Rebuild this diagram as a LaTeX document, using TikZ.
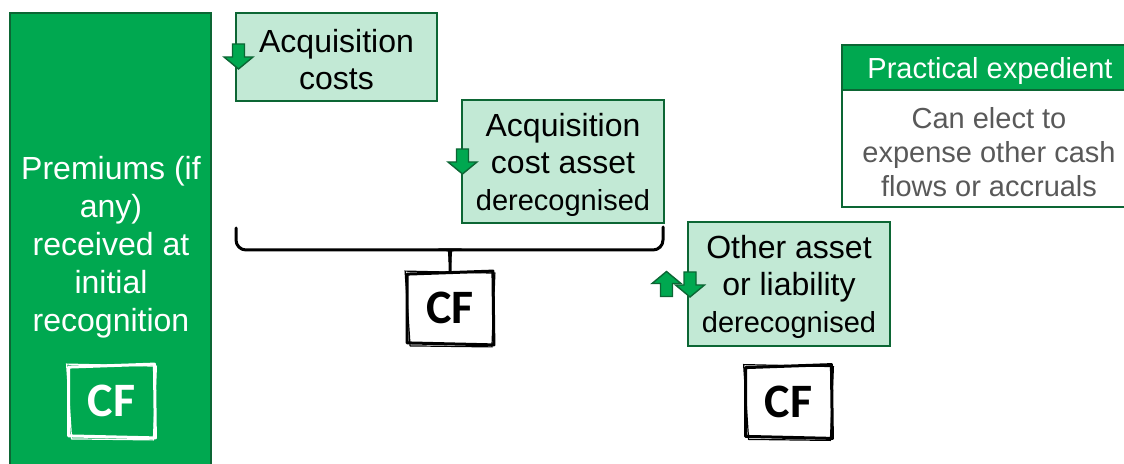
\documentclass[tikz,border=0pt]{standalone}
\usepackage{fontspec}
\setmainfont{Liberation Sans}
\newfontfamily\cffont{Carlito}

\definecolor{ifrsgreen}{RGB}{0,168,80}
\definecolor{ifrsdark}{RGB}{12,102,52}
\definecolor{ifrslight}{RGB}{194,233,213}
\definecolor{notegray}{RGB}{89,89,89}

% rough hand-drawn outline round a CF node
\newcommand\roughframe[2]{%
  \draw[#2,line width=1.5pt,line join=round]
    ([shift={(-1,2)}]#1.north west) -- ([shift={(1,-1)}]#1.north east)
    -- ([shift={(2,1)}]#1.south east) -- ([shift={(-1,-1)}]#1.south west) -- cycle;
  \draw[#2,line width=0.6pt]
    ([shift={(-3,-1)}]#1.north west) -- ([shift={(3,1)}]#1.north east)
    -- ([shift={(0,3)}]#1.south east) -- ([shift={(2,2)}]#1.south west) -- cycle;
}
% smaller last line in the boxes
\newcommand\smallline[1]{{\fontsize{14.5}{17}\selectfont #1}}

\begin{document}
\begin{tikzpicture}[x=0.5pt,y=-0.5pt,
  stepbox/.style={draw=ifrsdark,fill=ifrslight,line width=1.3pt,align=center,
    inner sep=0pt,font=\fontsize{16}{18.6}\selectfont},
  cf/.style={inner sep=0pt,minimum width=41.5pt,minimum height=35.5pt,
    font=\cffont\bfseries\fontsize{24}{24}\selectfont},
  brace line/.style={line width=1.5pt,line cap=round},
  downmark/.pic={
    \draw[draw=ifrsdark,fill=ifrsgreen,line width=0.7pt,line join=miter]
      (-6,-12.5) -- (6,-12.5) -- (6,0.5) -- (14.5,0.5) -- (0,12.5)
      -- (-14.5,0.5) -- (-6,0.5) -- cycle;
  }]
  \useasboundingbox (0,0) rectangle (1124,464);
  \clip (0,0) rectangle (1124,464);

  % premiums panel
  \draw[fill=ifrsgreen,draw=ifrsdark,line width=1pt] (10,13) rectangle (211,480);
  \node[text=white,align=center,font=\fontsize{16}{19}\selectfont] (prem) at (111,247)
    {Premiums (if\\any)\\received at\\initial\\recognition};
  \node[cf,text=white] (cfprem) at (111.5,401) {CF};
  \roughframe{cfprem}{white}

  % acquisition cost boxes
  \node[stepbox,minimum width=100.5pt,minimum height=44pt] (acq) at (336.5,57)
    {\rule{0pt}{14pt}Acquisition\\costs};
  \node[stepbox,minimum width=101pt,minimum height=61.5pt] (acqasset) at (563,161.5)
    {\rule{0pt}{15pt}Acquisition\\cost asset\\\smallline{derecognised}};
  \pic at (238.5,56.5) {downmark};
  \pic at (462.5,161.5) {downmark};

  % brace under both boxes
  \coordinate (braceL) at (236,228);
  \coordinate (braceR) at (663,227);
  \node[cf,fill=white] (cfmid) at (450,308) {CF};
  \roughframe{cfmid}{black}
  \draw[brace line] (braceL) [rounded corners=5] -- (236,250) -- (442,250) [sharp corners]
    .. controls (448,250) and (450,253) .. (450,262) -- (cfmid.north);
  \draw[brace line] (braceR) [rounded corners=5] -- (663,250) -- (458,250) [sharp corners]
    .. controls (452,250) and (450,253) .. (450,262);

  % other asset or liability
  \node[stepbox,minimum width=101pt,minimum height=62pt] (other) at (789,284)
    {\rule{0pt}{14.5pt}Other asset\\or liability\\\smallline{derecognised}};
  \pic[rotate=180] at (666.5,284) {downmark};
  \pic at (690,284.5) {downmark};
  \node[cf,fill=white] (cfother) at (788.5,401.5) {CF};
  \roughframe{cfother}{black}

  % practical expedient note
  \draw[fill=white,draw=ifrsdark,line width=1.3pt] (842,90) rectangle (1140,207);
  \draw[fill=ifrsgreen,draw=ifrsdark,line width=1.3pt] (842,45) rectangle (1140,90);
  \node[text=white,font=\fontsize{14.5}{17}\selectfont] (pehead) at (990,71)
    {Practical expedient};
  \node[text=notegray,align=center,font=\fontsize{14.5}{17}\selectfont] (pebody) at (989,152)
    {Can elect to\\expense other cash\\flows or accruals};
\end{tikzpicture}
\end{document}
